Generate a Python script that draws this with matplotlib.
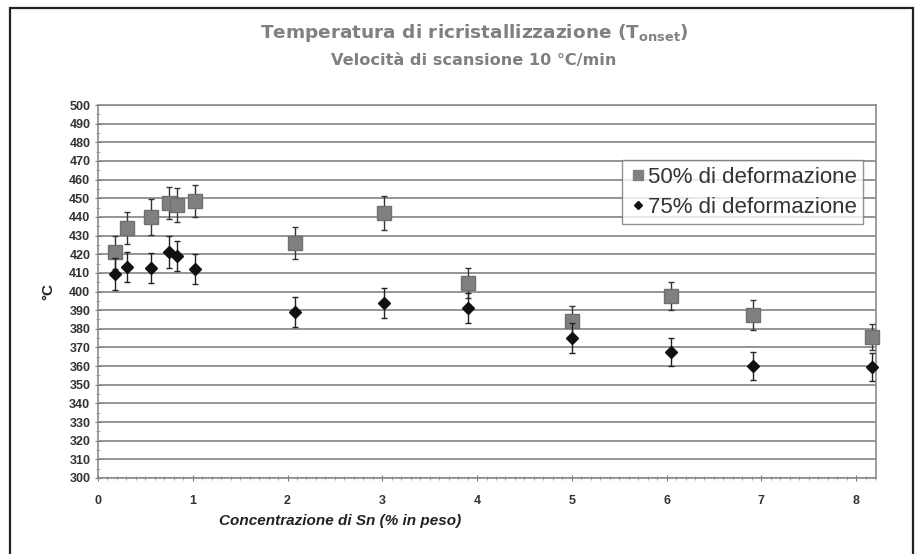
import matplotlib
matplotlib.use('Agg')
import matplotlib.pyplot as plt
from matplotlib.patches import Rectangle
from matplotlib.lines import Line2D
from matplotlib.ticker import MultipleLocator

# Dati
sn_conc = [0.18, 0.31, 0.56, 0.75, 0.83, 1.02, 2.08, 3.02, 3.90, 5.00, 6.05, 6.91, 8.17]
t_50 = [421, 434, 440, 447.5, 446.5, 448.5, 426, 442, 404.5, 384, 397.5, 387.5, 375.5]
err_50 = [9, 8.5, 9.5, 8.5, 9, 8.5, 8.5, 9, 8, 8, 7.5, 8, 7]
t_75 = [409.5, 413, 412.5, 421, 419, 412, 389, 394, 391, 375, 367.5, 360, 359.5]
err_75 = [8.5, 8, 8, 8.5, 8, 8, 8, 8, 8, 8, 7.5, 7.5, 7.5]

label_50 = '50% di deformazione'
label_75 = '75% di deformazione'

plt.rcParams['font.family'] = ['Liberation Sans', 'DejaVu Sans']

W, H = 919, 554
fig = plt.figure(figsize=(W / 100, H / 100), dpi=100, facecolor='white')
ax = fig.add_axes([98 / W, 1 - 478 / H, (876 - 98) / W, (478 - 105) / H])

# cornice esterna
fig.patches.append(Rectangle((10 / W, -0.05), (913 - 10) / W, 1.05 - 8 / H,
                             transform=fig.transFigure, fill=False,
                             edgecolor='#222222', linewidth=1.6))

sq_color = '#808080'
dm_color = '#111111'
ax.errorbar(sn_conc, t_50, yerr=err_50, fmt='s', color=sq_color, ms=10,
            mec='#707070', ecolor='#333333', elinewidth=1, capsize=2.5,
            zorder=3, clip_on=False)
ax.errorbar(sn_conc, t_75, yerr=err_75, fmt='D', color=dm_color, ms=6.5,
            ecolor='#222222', elinewidth=1, capsize=2.5,
            zorder=4, clip_on=False)

ax.set_xlim(0, 8.21)
ax.set_ylim(300, 500)
ax.xaxis.set_major_locator(MultipleLocator(1))
ax.xaxis.set_minor_locator(MultipleLocator(0.1))
ax.yaxis.set_major_locator(MultipleLocator(10))
ax.yaxis.set_minor_locator(MultipleLocator(5))

ax.grid(True, axis='y', which='major', color='#8c8c8c', linewidth=1.3)
ax.set_axisbelow(True)

for name, spine in ax.spines.items():
    spine.set_edgecolor('#8c8c8c')
    spine.set_linewidth(1.2)

ax.tick_params(axis='both', which='major', direction='inout', length=5,
               color='#777777', labelsize=9, labelcolor='#333333')
ax.tick_params(axis='both', which='minor', direction='inout', length=3,
               color='#999999')
ax.tick_params(axis='x', which='major', pad=10)
ax.tick_params(axis='y', which='major', pad=3)
for lbl in ax.get_xticklabels() + ax.get_yticklabels():
    lbl.set_fontweight('bold')

ax.set_ylabel('°C', fontsize=11, fontweight='bold', color='#222222', labelpad=10)

fig.text(340 / W, 1 - 521 / H, 'Concentrazione di Sn (% in peso)', ha='center',
         va='center', fontsize=11, fontweight='bold', style='italic', color='#222222')

fig.text(474 / W, 1 - 33 / H, r'Temperatura di ricristallizzazione (T$_{\mathregular{onset}}$)',
         ha='center', va='center', fontsize=13.3, fontweight='bold', color='#808080',
         family=['DejaVu Sans'])
fig.text(474 / W, 1 - 60 / H, 'Velocità di scansione 10 °C/min', ha='center',
         va='center', fontsize=11.6, fontweight='bold', color='#808080',
         family=['DejaVu Sans'])

# legenda: solo marker, senza barre d'errore
handles = [
    Line2D([], [], ls='none', marker='s', ms=7, color=sq_color),
    Line2D([], [], ls='none', marker='D', ms=4.5, color=dm_color),
]
leg = ax.legend(handles, [label_50, label_75], loc='upper left',
                bbox_to_anchor=((622 - 98) / (876 - 98), (478 - 160) / (478 - 105)),
                frameon=True, fancybox=False, fontsize=16, handletextpad=0.05,
                handlelength=0.8, borderpad=0.3, labelspacing=0.4, borderaxespad=0)
leg.get_frame().set_edgecolor('#777777')
leg.get_frame().set_linewidth(1.0)
for t in leg.get_texts():
    t.set_color('#333333')

fig.savefig('out.png', dpi=100, facecolor='white')
